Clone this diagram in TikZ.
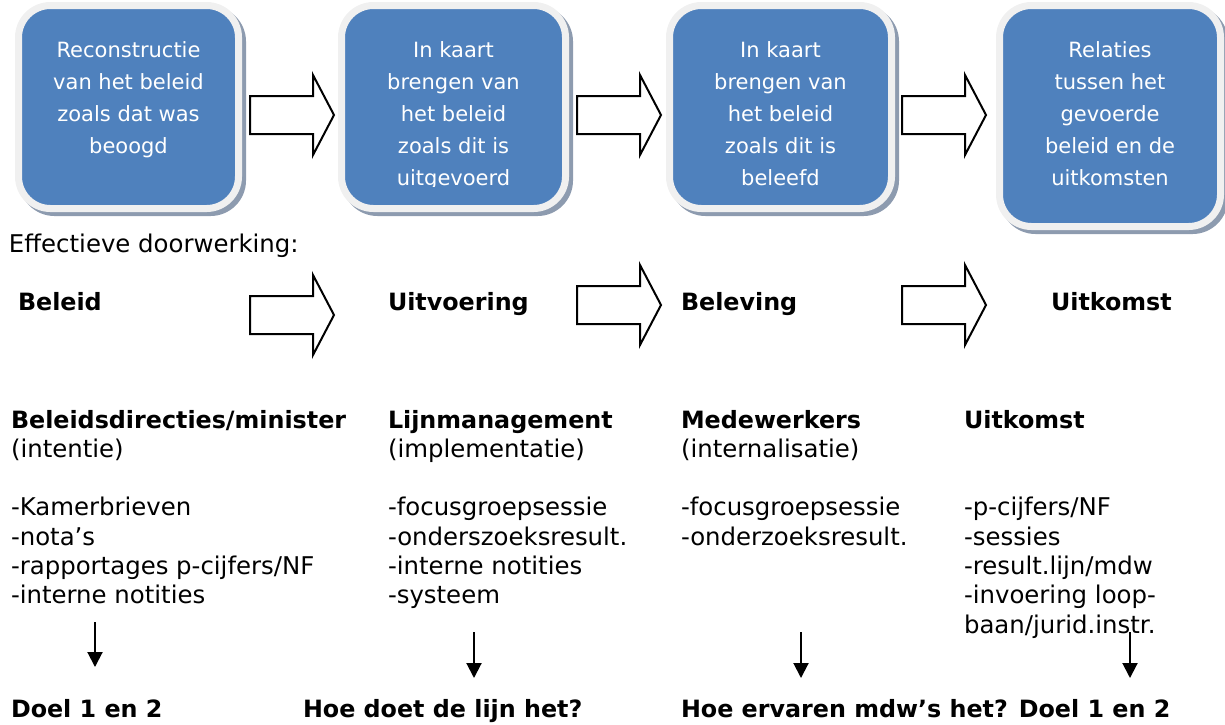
\documentclass[tikz,border=0pt]{standalone}
\usepackage{fontspec}
\setmainfont{DejaVu Sans}
\usetikzlibrary{arrows.meta}

\definecolor{stageblue}{HTML}{4F81BD}
\definecolor{rimgrey}{HTML}{F0F0F0}
\definecolor{shadowgrey}{HTML}{8D9BAF}

\tikzset{every picture/.style={line width=2pt}}

\begin{document}
\begin{tikzpicture}[x=1pt,y=1pt,yscale=-1,xscale=1,
  stagebox/.style={draw=rimgrey, line width=7pt, fill=stageblue, rounded corners=32pt, inner sep=0pt,
    preaction={draw=shadowgrey, fill=shadowgrey, transform canvas={shift={(4pt,-4pt)}}}},
  stagetext/.style={anchor=north, inner sep=0pt, align=center, text=white, font=\fontsize{21}{32}\selectfont},
  bodytext/.style={anchor=north west, inner sep=0pt, align=left, font=\fontsize{24.4}{29.3}\selectfont},
  headtext/.style={anchor=base west, inner sep=0pt, font=\fontsize{23.8}{29.3}\selectfont\bfseries},
  downarrow/.style={-{Triangle[width=15pt,length=15pt]}, line width=2pt},
  blockarrow/.pic={\draw[line width=2pt, fill=white] (0,-19) -- (63,-19) -- (63,-40) -- (84,0) -- (63,40) -- (63,19) -- (0,19) -- cycle;}
]
\useasboundingbox (0,0) rectangle (1225,724);

%Stage boxes
\node[stagebox, minimum width=220pt, minimum height=203pt] (s1) at (128.5,107) {};
\node[stagebox, minimum width=224pt, minimum height=203pt] (s2) at (453.5,107) {};
\node[stagebox, minimum width=222pt, minimum height=203pt] (s3) at (780.5,107) {};
\node[stagebox, minimum width=221pt, minimum height=221pt] (s4) at (1110,116) {};

% Text in the boxes
\node[stagetext] (t1) at (128.5,41) {Reconstructie\\van het beleid\\zoals dat was\\beoogd};
\begin{scope}
\clip (340,0) rectangle (570,186);
\node[stagetext] (t2) at (453.5,41) {In kaart\\brengen van\\het beleid\\zoals dit is\\uitgevoerd};
\end{scope}
\node[stagetext] (t3) at (780.5,41) {In kaart\\brengen van\\het beleid\\zoals dit is\\beleefd};
\node[stagetext] (t4) at (1110,41) {Relaties\\tussen het\\gevoerde\\beleid en de\\uitkomsten};

%Block arrows, top row
\pic (ta1) at (250,115) {blockarrow};
\pic (ta2) at (577,115) {blockarrow};
\pic (ta3) at (902,115) {blockarrow};

% Text Node
\node[headtext, font=\fontsize{24.4}{29.3}\selectfont] (effect) at (8,252) {Effectieve doorwerking:};

% Headings
\node[headtext] (h1) at (17,310) {Beleid};
\node[headtext] (h2) at (387,310) {Uitvoering};
\node[headtext] (h3) at (680,310) {Beleving};
\node[headtext] (h4) at (1050,310) {Uitkomst};

%Block arrows, middle row
\pic (ma1) at (250,315) {blockarrow};
\pic (ma2) at (577,305) {blockarrow};
\pic (ma3) at (902,305) {blockarrow};

% Columns
\node[bodytext] (c1) at (10,409) {{\fontsize{23.8}{29.3}\selectfont\bfseries Beleidsdirecties/minister}\\(intentie)\\ \\-Kamerbrieven\\-nota’s\\-rapportages p-cijfers/NF\\-interne notities};
\node[bodytext] (c2) at (387,409) {{\fontsize{23.8}{29.3}\selectfont\bfseries Lijnmanagement}\\(implementatie)\\ \\-focusgroepsessie\\-onderszoeksresult.\\-interne notities\\-systeem};
\node[bodytext] (c3) at (680,409) {{\fontsize{23.8}{29.3}\selectfont\bfseries Medewerkers}\\(internalisatie)\\ \\-focusgroepsessie\\-onderzoeksresult.};
\node[bodytext] (c4) at (963,409) {{\fontsize{23.8}{29.3}\selectfont\bfseries Uitkomst}\\ \\ \\-p-cijfers/NF\\-sessies\\-result.lijn/mdw\\-invoering loop-\\baan/jurid.instr.};

%Down arrows
\coordinate (d1a) at (95,622);  \coordinate (d1b) at (95,667);
\coordinate (d2a) at (474,632); \coordinate (d2b) at (474,678);
\coordinate (d3a) at (801,632); \coordinate (d3b) at (801,678);
\coordinate (d4a) at (1130,632); \coordinate (d4b) at (1130,678);
\draw[downarrow] (d1a) -- (d1b);
\draw[downarrow] (d2a) -- (d2b);
\draw[downarrow] (d3a) -- (d3b);
\draw[downarrow] (d4a) -- (d4b);

% Bottom labels
\node[headtext] (b1) at (10,717) {Doel 1 en 2};
\node[headtext] (b2) at (302,717) {Hoe doet de lijn het?};
\node[headtext] (b3) at (680,717) {Hoe ervaren mdw’s het? Doel 1 en 2};

\end{tikzpicture}
\end{document}
